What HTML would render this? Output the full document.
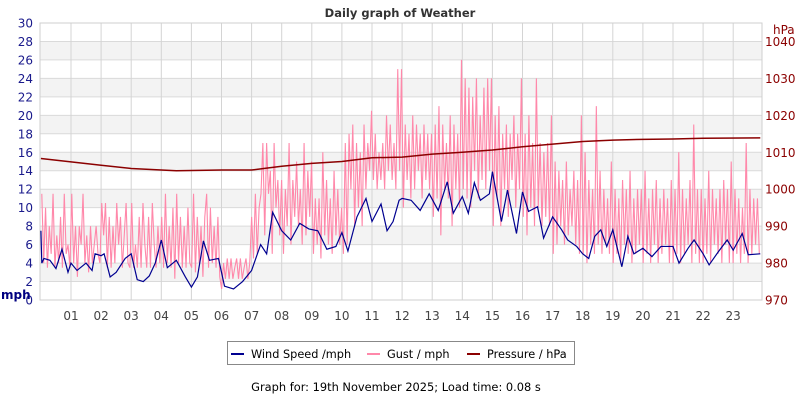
<!DOCTYPE html>
<html><head><meta charset="utf-8"><style>
body{margin:0;background:#fff;width:800px;height:400px;overflow:hidden;font-family:"Liberation Sans",sans-serif}
svg text{font-family:"DejaVu Sans","Liberation Sans",sans-serif}
</style></head><body>
<svg id="c" width="800" height="400"></svg>
<script>
const pressTimes=[0,1,2,3,4,4.5,6,7,7.5,8,9,10,11,12,13,14,15,16,17,18,19,20,21,22,23.9];
const pressValues=[1008.3,1007.4,1006.5,1005.6,1005.2,1005,1005.2,1005.2,1005.7,1006.2,1007,1007.5,1008.5,1008.7,1009.5,1010,1010.6,1011.5,1012.2,1012.9,1013.3,1013.5,1013.6,1013.8,1013.9];
const windTimes=[0,0.03,0.1,0.3,0.5,0.7,0.9,1.0,1.2,1.5,1.7,1.8,2.0,2.1,2.3,2.5,2.8,3.0,3.2,3.4,3.6,3.8,4.0,4.2,4.5,4.8,5.0,5.2,5.4,5.6,5.9,6.1,6.4,6.7,7.0,7.3,7.5,7.7,8.0,8.3,8.6,8.9,9.2,9.5,9.8,10.0,10.2,10.5,10.8,11.0,11.3,11.5,11.7,11.9,12.0,12.3,12.6,12.9,13.2,13.5,13.7,14.0,14.2,14.4,14.6,14.9,15.0,15.3,15.5,15.8,16.0,16.2,16.5,16.7,17.0,17.3,17.5,17.8,18.0,18.2,18.4,18.6,18.8,19.0,19.3,19.5,19.7,20.0,20.3,20.6,21.0,21.2,21.5,21.7,22.0,22.2,22.5,22.8,23.0,23.3,23.5,23.9];
const windValues=[7.5,4,4.5,4.3,3.4,5.5,3,4,3.2,4,3.2,5,4.8,5,2.5,3,4.5,5,2.2,2,2.6,4,6.5,3.5,4.3,2.5,1.4,2.5,6.4,4.3,4.5,1.5,1.2,2,3.2,6,5,9.5,7.5,6.5,8.3,7.7,7.5,5.5,5.8,7.3,5.3,9,11,8.5,10.4,7.5,8.5,10.8,11,10.8,9.7,11.5,9.7,12.8,9.4,11.2,9.4,12.7,10.8,11.5,13.9,8.5,11.9,7.2,11.7,9.6,10.1,6.7,9,7.6,6.5,5.8,5,4.5,6.9,7.6,5.8,7.6,3.6,6.9,5,5.6,4.7,5.8,5.8,4,5.6,6.5,5,3.8,5.2,6.5,5.4,7.2,4.9,5];
const gustValues=[
11.5,4,10,3.5,8,5,11.5,3.5,7,4,9,3.5,11.5,5,6,3.5,
11.5,4,8,2.5,8,6,11.5,4,7,3,8,4,6,8,5,4,
10.5,7,10.5,3.5,9,3.5,8,4,10.5,6,9,3.5,7,10.5,4,3.5,
10.5,3.5,6,3.5,9,3.5,10.5,6,3.5,9,3.5,10.5,6,3.5,8,4,
9,3.5,11.5,4,8,3.5,10,2.3,11.5,4,9,3.5,8,3.5,10,4,
3.5,11.5,3,9,4,8,2.5,9,11.5,3.5,10,4,8,3.5,9,2.5,
1.2,4,2.3,4.5,2.3,4.5,2.3,3.5,4.5,2.3,4.5,2.3,3.5,4.5,2.3,4,
9,4.5,11.5,5,10,11.5,17,7,17,11.5,14,5,17,10,13,7,
13,5,12,8,17,6,13,9,15,8,12,6,17,7,14,9,
15,5,11,6,11,4.5,16,7,13,6,11,5,14,7,12,6,
10,5,17,6,18,12,19,8,17,10,16,8,19,12,17,14,
20.5,13,18,12,16,13,17,12,20,14,19,13,17,12,25,14,
25,10,19,13,18,11,20,12,19,14,18,11,19,13,18,12,
18,9,19,11,21,7,19,12,17,11,20,8,19,12,18,10,
26,12,24,11,23,10,22,14,24,11,20,13,23,12,24,14,
24,8,20,11,21,8,18,12,19,9,18,13,20,10,18,12,
24,9,18,7,20,10,17,8,24,10,17,8,16,9,17,8,
20,5,15,6,14,8,13,6,15,7,12,8,14,6,13,5,
20,5,16,4,13,6,12,5,21,6,14,5,12,6,11,5,
15,4,12,5,11,4,13,6,12,5,14,4,11,5,12,6,
12,4,14,5,11,4,12,6,13,4,11,5,12,6,11,4,
13,4,12,5,16,4,12,5,11,6,13,4,19,5,12,4,
12,4,11,5,14,4,12,6,11,5,12,4,13,6,12,4,
15,4,12,5,11,4,10,5,17,4,12,5,11,6,11,5];
const leftTicks=[0,2,4,6,8,10,12,14,16,18,20,22,24,26,28,30];
const rightTicks=[970,980,990,1000,1010,1020,1030,1040];
const hourLabels=["01","02","03","04","05","06","07","08","09","10","11","12","13","14","15","16","17","18","19","20","21","22","23"];

const L=40,R=762,T=23,B=300;
const x=h=>40.9+h*30.1;
const y=v=>B-(v/30)*(B-T);
const yp=p=>B-((p-970)/75)*(B-T);
const svg=document.getElementById('c');
const NS='http://www.w3.org/2000/svg';
function mk(tag,attrs,parent){const e=document.createElementNS(NS,tag);for(const k in attrs)e.setAttribute(k,attrs[k]);(parent||svg).appendChild(e);return e;}

for(let v=2;v<30;v+=4){const r=mk('rect',{x:L,y:y(v+2),width:R-L,height:y(v)-y(v+2),fill:'#f3f3f3'});

}
for(const v of leftTicks){const l=mk('line',{x1:L,x2:R,y1:y(v),y2:y(v),stroke:'#dadada'});


const t=mk('text',{x:33,y:y(v)+4.5,'text-anchor':'end','font-size':12,fill:'#1a1a8c'});t.textContent=v;

}
for(const p of rightTicks){const t=mk('text',{x:765,y:yp(p)+4.5,'font-size':12,fill:'#8b0000'});t.textContent=p;

}
hourLabels.forEach((s,i)=>{const h=i+1;const l=mk('line',{x1:x(h),x2:x(h),y1:T,y2:B,stroke:'#d4d4d4'});


const t=mk('text',{x:x(h),y:320,'text-anchor':'middle','font-size':12,fill:'#444'});t.textContent=s;

});
const fr=mk('rect',{x:L,y:T,width:R-L,height:B-T,fill:'none',stroke:'#cfcfcf'});



const gp=gustValues.map((v,i)=>x(i*23.9/gustValues.length+0.03)+','+y(v)).join(' ');
const g=mk('polyline',{points:gp,fill:'none',stroke:'#ff88aa','stroke-width':1.1});


const pp=pressTimes.map((t,i)=>x(t)+','+yp(pressValues[i])).join(' ');
const p=mk('polyline',{points:pp,fill:'none',stroke:'#8b0000','stroke-width':1.5});


const wp=windTimes.map((t,i)=>x(t)+','+y(windValues[i])).join(' ');
const w=mk('polyline',{points:wp,fill:'none',stroke:'#000090','stroke-width':1.2});



let t=mk('text',{x:400,y:17,'text-anchor':'middle','font-size':11.5,'font-weight':'bold',fill:'#333','font-family':'Liberation Mono,monospace'});t.textContent='Daily graph of Weather';


t=mk('text',{x:1,y:299,'font-size':12,'font-weight':'bold',fill:'#000080','font-family':'Liberation Mono,monospace'});t.textContent='mph';


t=mk('text',{x:773,y:34,'font-size':12,fill:'#8b0000'});t.textContent='hPa';



const lg=mk('rect',{x:227.5,y:341.5,width:347,height:23,fill:'#fff',stroke:'#888'});


[['Wind Speed /mph','#000090',231],['Gust / mph','#ff88aa',367],['Pressure / hPa','#8b0000',467]].forEach(([s,c,lx])=>{
const l=mk('line',{x1:lx,x2:lx+13,y1:354,y2:354,stroke:c,'stroke-width':2});


const tt=mk('text',{x:lx+20,y:358,'font-size':11.3,fill:'#000'});tt.textContent=s;

});
t=mk('text',{x:396,y:391,'text-anchor':'middle','font-size':11.4,fill:'#000'});t.textContent='Graph for: 19th November 2025; Load time: 0.08 s';


</script>
</body></html>
